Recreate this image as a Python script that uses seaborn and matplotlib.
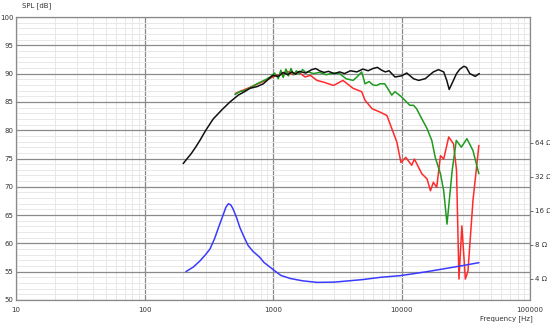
import numpy as np
import pandas as pd
import matplotlib
matplotlib.use("Agg")
import matplotlib.pyplot as plt
import seaborn as sns
from matplotlib.ticker import FixedLocator, NullFormatter, NullLocator

# ---------------- data ----------------
black_f = [200, 215, 230, 250, 270, 300, 343, 400, 463, 537, 600, 662, 750, 841, 920,
           1000, 1100, 1200, 1300, 1400, 1500, 1600, 1800, 2000, 2150, 2300, 2500, 2700,
           3000, 3300, 3600, 4000, 4500, 5000, 5500, 6000, 6500, 7000, 7500, 8000, 8900,
           10000, 11000, 12400, 13600, 15300, 17700, 19400, 21300, 22500, 23500, 25000,
           26800, 28500, 30600, 32000, 34000, 37500, 40300]
black_db = [74.1, 75.0, 75.8, 77.0, 78.2, 80.0, 82.0, 83.6, 85.0, 86.2, 86.8, 87.4, 87.7, 88.2, 89.0,
            89.7, 89.5, 90.2, 89.8, 90.3, 89.9, 90.4, 90.1, 90.7, 90.9, 90.5, 90.2, 90.4,
            90.0, 90.3, 90.0, 90.5, 90.3, 90.8, 90.5, 90.9, 91.1, 90.6, 90.3, 90.5, 89.4,
            89.6, 90.1, 89.1, 88.8, 89.1, 90.3, 90.7, 90.3, 88.8, 87.2, 88.5,
            90.0, 90.8, 91.3, 91.1, 90.0, 89.5, 90.0]

green_f = [506, 550, 600, 650, 700, 750, 800, 870, 950, 1030, 1100, 1150, 1200, 1260, 1320,
           1380, 1450, 1520, 1600, 1700, 1800, 1900, 2050, 2300, 2600, 2800, 3100, 3300,
           3700, 4200, 4500, 4900, 5200, 5600, 6000, 6400, 6800, 7400, 7700, 8400, 8900,
           10000, 11600, 12400, 13100, 14400, 15800, 17200, 18300, 20100, 21300, 22600,
           24800, 26700, 29200, 32300, 36000, 40000]
green_db = [86.3, 86.8, 87.0, 87.4, 87.8, 88.2, 88.5, 88.9, 89.4, 90.1, 89.1, 90.6, 89.3, 90.8, 89.6,
            90.9, 89.8, 90.5, 90.0, 90.7, 90.2, 90.3, 90.0, 90.2, 89.8, 90.0, 90.1, 90.0,
            89.1, 88.8, 89.4, 90.3, 88.2, 88.6, 88.0, 87.9, 88.2, 88.2, 87.6, 86.2, 86.8,
            85.9, 84.4, 84.4, 83.8, 82.0, 80.3, 78.2, 75.2, 72.3, 69.3, 63.4,
            72.9, 78.2, 77.0, 78.5, 76.4, 72.3]

red_f = [510, 560, 620, 700, 780, 860, 950, 1070, 1200, 1300, 1430, 1570, 1780, 1950, 2200,
         2470, 2960, 3500, 4200, 4900, 5200, 5900, 6800, 7700, 8400, 9200, 9900, 10800,
         12000, 12600, 14400, 15800, 16800, 17700, 18800, 20100, 21300, 23300, 25400,
         26800, 28000, 29500, 31400, 32900, 36000, 40000]
red_db = [86.5, 86.9, 87.3, 87.8, 88.3, 88.7, 89.2, 89.7, 89.9, 90.4, 89.8, 90.3, 89.4, 89.7, 88.8,
          88.5, 87.9, 88.8, 87.4, 86.8, 85.3, 83.8, 83.2, 82.6, 80.3, 77.9, 74.3, 75.2,
          73.8, 74.9, 72.3, 71.4, 69.3, 70.8, 69.9, 75.5, 74.9, 78.8, 77.6,
          72.9, 53.7, 63.1, 53.7, 55.1, 67.6, 77.3]

imp_f = [210, 240, 270, 300, 323, 350, 385, 410, 430, 450, 470, 489, 520, 552, 600, 640, 700,
         790, 850, 1000, 1150, 1360, 1700, 2200, 3000, 3900, 5000, 6800, 9800, 12400, 16000,
         22600, 30000, 40000]
imp_ohm = [4.64, 5.1, 5.77, 6.6, 7.35, 9.0, 12.2, 14.8, 17.2, 18.5, 18.0, 16.6, 14.0, 11.4, 9.2,
           7.9, 7.0, 6.2, 5.6, 4.85, 4.3, 4.04, 3.85, 3.73, 3.75, 3.85, 3.95, 4.13, 4.28, 4.45,
           4.65, 4.97, 5.25, 5.57]

x_ticks = [10, 100, 1000, 10000, 100000]
x_labels = ["10", "100", "1000", "10000", "100000"]
y_ticks = [50, 55, 60, 65, 70, 75, 80, 85, 90, 95, 100]
z_ticks = [4, 8, 16, 32, 64]
z_labels = ["4 Ω", "8 Ω", "16 Ω", "32 Ω", "64 Ω"]

# ---------------- plot ----------------
sns.set_style("white")
plt.rcParams["font.family"] = ["DejaVu Sans"]

fig = plt.figure(figsize=(5.5, 3.25), dpi=100)
ax = fig.add_axes([16 / 550, 1 - 300 / 325, 514 / 550, 283 / 325])

major_c = "#8a8a8a"
minor_c = "#e8e8e8"

ax.set_xscale("log")
ax.set_xlim(10, 100000)
ax.set_ylim(50, 100)

# grid
ax.xaxis.set_major_locator(FixedLocator(x_ticks))
minor_x = [m * 10 ** d for d in range(1, 5) for m in range(2, 10)]
ax.xaxis.set_minor_locator(FixedLocator(minor_x))
ax.xaxis.set_minor_formatter(NullFormatter())
ax.yaxis.set_major_locator(FixedLocator(y_ticks))
ax.yaxis.set_minor_locator(FixedLocator(list(range(50, 101))))
ax.grid(which="minor", color=minor_c, linewidth=0.7, zorder=0)
ax.grid(which="major", color=major_c, linewidth=0.9, zorder=0)
ax.set_axisbelow(True)

ax.set_xticklabels(x_labels)
ax.tick_params(axis="both", which="both", length=0, labelsize=5, labelcolor="#333333")
ax.tick_params(axis="x", pad=5)
ax.tick_params(axis="y", pad=2)
for s in ax.spines.values():
    s.set_color(major_c)
    s.set_linewidth(0.9)

df_b = pd.DataFrame({"f": black_f, "db": black_db})
df_g = pd.DataFrame({"f": green_f, "db": green_db})
df_r = pd.DataFrame({"f": red_f, "db": red_db})
sns.lineplot(data=df_r, x="f", y="db", ax=ax, color="#ff2a2a", linewidth=1.1, estimator=None, sort=False)
sns.lineplot(data=df_g, x="f", y="db", ax=ax, color="#1f9a1f", linewidth=1.1, estimator=None, sort=False)
sns.lineplot(data=df_b, x="f", y="db", ax=ax, color="#111111", linewidth=1.1, estimator=None, sort=False)
ax.set_xlabel("")
ax.set_ylabel("")

ax2 = ax.twinx()
ax2.set_yscale("log", base=2)
zlo = 4 * 2 ** ((50 - 53.72) / 6.02)
zhi = 4 * 2 ** ((100 - 53.72) / 6.02)
ax2.set_ylim(zlo, zhi)
df_z = pd.DataFrame({"f": imp_f, "z": imp_ohm})
sns.lineplot(data=df_z, x="f", y="z", ax=ax2, color="#3a3aff", linewidth=1.1, estimator=None, sort=False)
ax2.set_ylim(zlo, zhi)
ax2.yaxis.set_major_locator(FixedLocator(z_ticks))
ax2.yaxis.set_minor_locator(NullLocator())
ax2.set_yticklabels(z_labels)
ax2.tick_params(axis="y", which="major", length=2, width=0.6, color="#555555",
                labelsize=5, labelcolor="#333333", pad=1.5)
ax2.set_ylabel("")
ax2.set_xlabel("")
ax2.grid(False)
for s in ax2.spines.values():
    s.set_visible(False)

fig.text(22 / 550, 1 - 6 / 325, "SPL [dB]", fontsize=5, color="#333333", ha="left", va="center")
fig.text(533 / 550, 1 - 319 / 325, "Frequency [Hz]", fontsize=5, color="#333333", ha="right", va="center")

fig.savefig("out.png", dpi=100)
